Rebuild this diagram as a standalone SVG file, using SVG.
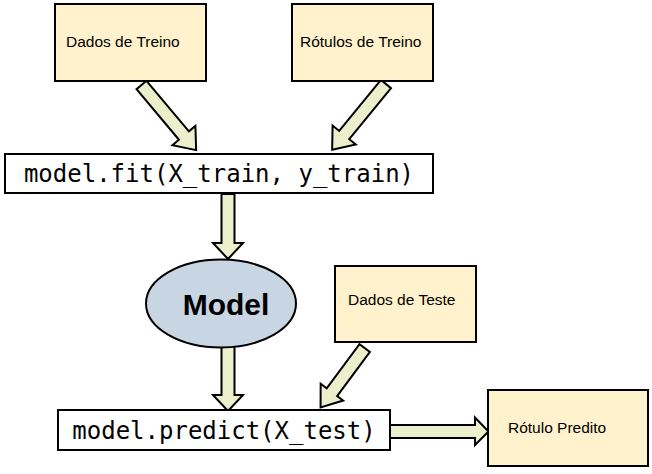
<svg xmlns="http://www.w3.org/2000/svg" width="652" height="474" viewBox="0 0 652 474">
<style>
.box{fill:#fff2cc;stroke:#000;stroke-width:2}
.code{fill:#fff;stroke:#000;stroke-width:2}
.arr{fill:#ebefcb;stroke:#000;stroke-width:2;stroke-linejoin:miter}
.lbl{font-family:"Liberation Sans",Arial,sans-serif;font-size:15.5px;fill:#000}
.mono{font-family:"DejaVu Sans Mono","Liberation Mono",monospace;font-size:24px;fill:#000}
</style>
<rect width="652" height="474" fill="#fff"/>
<g id="connectors">
<path class="arr" transform="translate(141.5,85) rotate(50)" d="M0,-6.5 H66 V-15 L85,0 L66,15 V6.5 H0 Z"/>
<path class="arr" transform="translate(386,84) rotate(129.3)" d="M0,-6.5 H66 V-15 L85,0 L66,15 V6.5 H0 Z"/>
<path class="arr" d="M221.5,194 H234.5 V243 H243 L228,259 L213,243 H221.5 Z"/>
<path class="arr" d="M221.5,346 H234.5 V395 H243 L228,411 L213,395 H221.5 Z"/>
<path class="arr" transform="translate(364.7,348) rotate(126.6)" d="M0,-6.5 H55 V-14 L74,0 L55,14 V6.5 H0 Z"/>
<path class="arr" d="M390,425 H475 V417.5 L488.5,431.5 L475,445 V438 H390 Z"/>
</g>
<g id="dados-treino">
<rect class="box" x="55" y="4" width="151" height="77"/>
<text class="lbl" x="66" y="47">Dados de Treino</text>
</g>
<g id="rotulos-treino">
<rect class="box" x="292" y="4" width="141" height="77"/>
<text class="lbl" x="300" y="47">Rótulos de Treino</text>
</g>
<g id="fit">
<rect class="code" x="5" y="154" width="428" height="39"/>
<text class="mono" x="219" y="182" text-anchor="middle">model.fit(X_train, y_train)</text>
</g>
<g id="model">
<ellipse cx="221" cy="303.5" rx="75" ry="44" fill="#c8d5e2" stroke="#000" stroke-width="2"/>
<text x="226" y="315" text-anchor="middle" font-family="'Liberation Sans',Arial,sans-serif" font-size="30" font-weight="bold">Model</text>
</g>
<g id="dados-teste">
<rect class="box" x="335" y="266" width="141" height="76"/>
<text class="lbl" x="348" y="305">Dados de Teste</text>
</g>
<g id="predict">
<rect class="code" x="58" y="410" width="332" height="40"/>
<text class="mono" x="224" y="439" text-anchor="middle">model.predict(X_test)</text>
</g>
<g id="rotulo-predito">
<rect class="box" x="488" y="390" width="160" height="76"/>
<text class="lbl" x="508" y="433">Rótulo Predito</text>
</g>
</svg>
